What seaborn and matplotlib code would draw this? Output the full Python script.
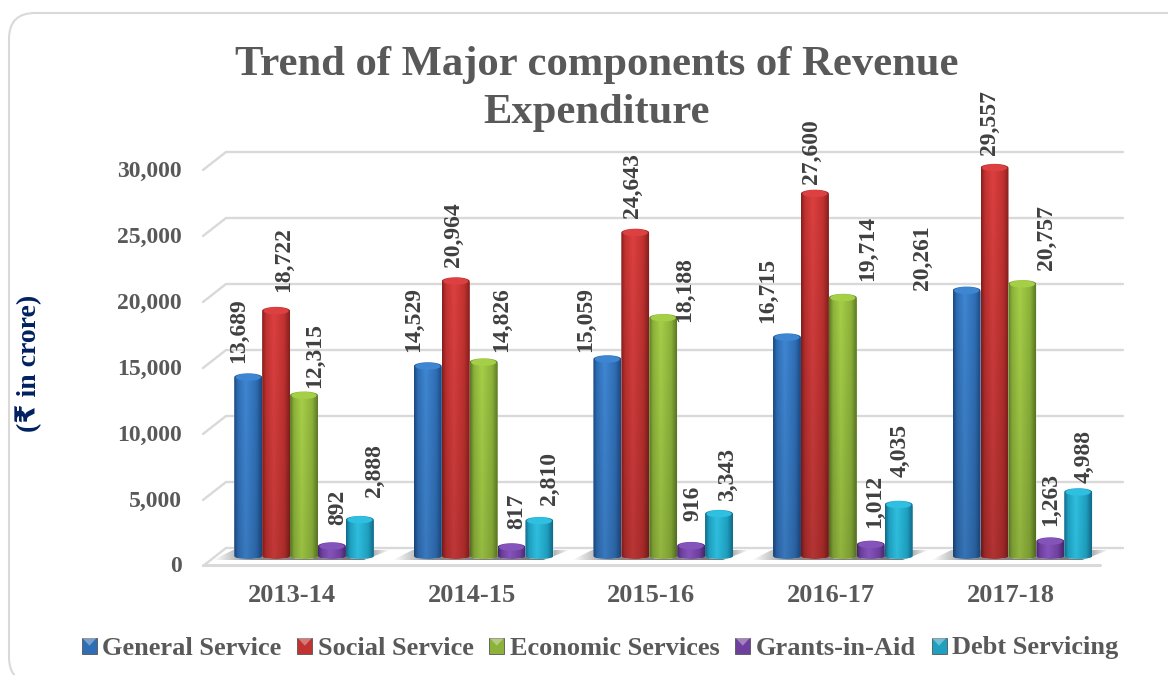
from matplotlib import pyplot as plt
from matplotlib.colors import LinearSegmentedColormap
from matplotlib.patches import Ellipse, FancyBboxPatch, Polygon, Rectangle
from matplotlib.legend_handler import HandlerPatch
from matplotlib.transforms import IdentityTransform, ScaledTranslation
import numpy as np
import pandas as pd
import seaborn as sns

years = ['2013-14', '2014-15', '2015-16', '2016-17', '2017-18']
general = [13689, 14529, 15059, 16715, 20261]
social = [18722, 20964, 24643, 27600, 29557]
economic = [12315, 14826, 18188, 19714, 20757]
grants = [892, 817, 916, 1012, 1263]
debt = [2888, 2810, 3343, 4035, 4988]
components = ['General Service', 'Social Service', 'Economic Services', 'Grants-in-Aid', 'Debt Servicing']
y_ticks = [0, 5000, 10000, 15000, 20000, 25000, 30000]

# dark edge, mid, highlight for each cylinder
shades = [('#1b4a82', '#2f6eb5', '#3f86d2'),
          ('#86201f', '#c23230', '#dc4040'),
          ('#5c7a24', '#8cb23a', '#a6cf48'),
          ('#46266c', '#6f3f9e', '#8554bb'),
          ('#12698a', '#1fa0c0', '#2fbfe0')]

# label nudges in pixels (right, up from the bar top), by series then year
label_dx = [[-10, -14, -22, -19, -44],
            [7, -2, -3, -3, -5],
            [11, 18, 21, 25, 24],
            [6, 5, 2, 4, 0],
            [15, 10, 8, 1, 6]]
label_dy = [[47, 47, 40, 47, 33],
            [51, 47, 47, 42, 45],
            [40, 43, 28, 49, 47],
            [39, 36, 43, 43, 42],
            [49, 42, 39, 54, 36]]

sns.set_style('white')
plt.rcParams['font.family'] = ['Liberation Serif', 'DejaVu Sans']
plt.rcParams['font.weight'] = 'bold'

W, H = 1168, 675
PX = 0.0132       # pixels per crore
BASE = 558        # pixel row of the value 0
X0 = 304          # pixel column of the first group
STEP = 179.6      # pixels between groups
GREY = '#595959'
LINE = '#d9d9d9'

df = pd.DataFrame({'Year': years, components[0]: general, components[1]: social,
                   components[2]: economic, components[3]: grants, components[4]: debt})
df = df.melt(id_vars='Year', var_name='Component', value_name='Value')

fig = plt.figure(figsize=(W / 100, H / 100), dpi=100, facecolor='white')
left, right, top, bottom = 200, 1130, 140, 580
ax = fig.add_axes([left / W, 1 - bottom / H, (right - left) / W, (bottom - top) / H])
ax.patch.set_alpha(0)

sns.barplot(data=df, x='Year', y='Value', hue='Component', hue_order=components,
            palette=[s[1] for s in shades], width=0.777, gap=0, saturation=1, ax=ax)

x_lim = ((left - X0) / STEP, (right - X0) / STEP)
y_lim = ((BASE - bottom) / PX, (BASE - top) / PX)
sx = 1 / STEP   # data x per pixel
sy = 1 / PX     # data y per pixel


def col(px):
    return (px - X0) * sx


# walls: back line plus a short diagonal coming forward at the left
for v in y_ticks:
    ax.plot([col(203), col(226), col(1123)], [v - 8 * sy, v + 10 * sy, v + 10 * sy],
            color=LINE, lw=1.7, zorder=0)
# floor front edge
ax.plot([col(203), col(1100)], [-7 * sy, -7 * sy], color=LINE, lw=2.2, zorder=0)

# soft shadow under each group
shadow = LinearSegmentedColormap.from_list('shadow', [(0, '#ffffff'), (0.22, '#8a8a8a'),
                                                      (0.85, '#7a7a7a'), (1, '#ffffff')])
for i in range(len(years)):
    sh = Polygon([(i - 91 * sx, -2 * sy), (i + 60 * sx, -2 * sy), (i + 86 * sx, 8 * sy), (i - 71 * sx, 8 * sy)],
                 closed=True, fc='none', ec='none')
    ax.add_patch(sh)
    im = ax.imshow(np.linspace(0, 1, 128)[None, :], cmap=shadow, aspect='auto', zorder=1,
                   extent=(i - 91 * sx, i + 86 * sx, -2 * sy, 8 * sy))
    im.set_clip_path(sh)

# turn the flat bars into cylinders
fade = 0.2
for c, container in enumerate(ax.containers):
    cmap = LinearSegmentedColormap.from_list('cyl' + str(c), [(0, shades[c][0]), (0.14, shades[c][1]),
                                             (0.42, shades[c][2]), (0.8, shades[c][1]), (1, shades[c][0])])
    for bar in container:
        x0 = bar.get_x()
        w = bar.get_width()
        h = bar.get_height()
        bar.set_zorder(2 + c)
        t = np.linspace(0, np.pi, 40)
        xs = x0 + w / 2 + w / 2 * np.cos(t)
        outline = np.r_[np.c_[xs, h + 4 * sy * np.sin(t)],
                        np.c_[xs[::-1], (2 - 3 * np.sin(t)) * sy]]
        body = Polygon(outline, closed=True, fc='none', ec='none')
        ax.add_patch(body)
        bar.set_clip_path(body)
        # horizontal shading, duller towards the foot of tall bars
        rgba = cmap(np.linspace(0, 1, 64))[None, :, :].repeat(48, axis=0)
        dim = np.linspace(1, 1 - fade * h / 30000, 48)[:, None, None]
        rgba[:, :, :3] *= dim
        im = ax.imshow(rgba, aspect='auto', zorder=2.2 + c, extent=(x0, x0 + w, -3 * sy, h + 5 * sy))
        im.set_clip_path(body)
        ax.add_patch(Ellipse((x0 + w / 2, h), w * 0.9, 7 * sy, fc=shades[c][2], ec='none', zorder=2.4 + c))

ax.set_xlim(x_lim)
ax.set_ylim(y_lim)

# value labels
for c, container in enumerate(ax.containers):
    for j, bar in enumerate(container):
        ax.annotate(f'{int(bar.get_height()):,}', (bar.get_x() + bar.get_width() / 2, bar.get_height()),
                    xytext=(label_dx[c][j], label_dy[c][j]), textcoords='offset pixels',
                    rotation=90, ha='center', va='center', fontsize=17, color='#404040', zorder=20)

sns.despine(ax=ax, left=True, bottom=True)
ax.set_xlabel('')
ax.set_ylabel('(₹ in crore)', color='#002060', fontsize=20, fontweight='bold')
ax.yaxis.set_label_coords((42 - left) / (right - left), (bottom - 363) / (bottom - top))
ax.set_yticks(y_ticks, [f'{v:,}' for v in y_ticks])
ax.tick_params(axis='y', length=0, pad=13, labelsize=17, labelcolor=GREY)
ax.tick_params(axis='x', length=0, pad=3, labelsize=19, labelcolor=GREY)
for lab in ax.get_yticklabels():
    lab.set_transform(lab.get_transform() + ScaledTranslation(0, -6.5 / 100, fig.dpi_scale_trans))
for lab in ax.get_xticklabels():
    lab.set_transform(lab.get_transform() + ScaledTranslation(-12 / 100, 0, fig.dpi_scale_trans))


class BevelSquare(HandlerPatch):
    def create_artists(self, legend, orig, xd, yd, width, height, fontsize, trans):
        sq = Rectangle((-xd, -yd), width, height, fc=orig.get_facecolor(), ec='#555555', lw=0.6, transform=trans)
        top = Polygon([(-xd, height - yd), (width - xd, height - yd), (width / 2 - xd, height / 2 - yd)],
                      fc='white', alpha=0.35, ec='none', transform=trans)
        return [sq, top]


handles, labels = ax.get_legend_handles_labels()
leg = ax.legend(handles, labels, ncols=5, loc='center', bbox_to_anchor=(600 / W, 1 - 648.5 / H),
                bbox_transform=fig.transFigure, frameon=False, fontsize=19, labelcolor=GREY,
                handlelength=0.57, handleheight=0.57, handletextpad=0.2, columnspacing=0.6,
                borderpad=0, borderaxespad=0, handler_map={Rectangle: BevelSquare()})
# the last entry sits a little low because of its descender
leg.get_texts()[-1].set_y(1)

fig.text(597 / W, 1 - 75 / H, 'Trend of Major components of Revenue', ha='center', va='baseline',
         fontsize=30.7, color=GREY)
fig.text(597 / W, 1 - 123 / H, 'Expenditure', ha='center', va='baseline', fontsize=30.7, color=GREY)

# card outline runs off the right and bottom of the picture
fig.add_artist(FancyBboxPatch((9, H - 683), 1300, 670, boxstyle='round,pad=0,rounding_size=26',
                              fc='none', ec='#d9d9d9', lw=1.5, transform=IdentityTransform()))

fig.savefig('out.png', dpi=100)
